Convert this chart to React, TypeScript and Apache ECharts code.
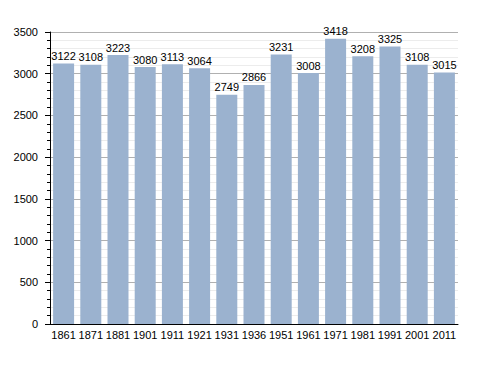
import React, { useEffect, useRef } from "react";
import * as echarts from "echarts";

const years = ["1861", "1871", "1881", "1901", "1911", "1921", "1931", "1936", "1951", "1961", "1971", "1981", "1991", "2001", "2011"];
const population = [3122, 3108, 3223, 3080, 3113, 3064, 2749, 2866, 3231, 3008, 3418, 3208, 3325, 3108, 3015];
const yMin = 0;
const yMax = 3500;
const yInterval = 500;

export default function App() {
  const ref = useRef<HTMLDivElement>(null);
  useEffect(() => {
    if (!ref.current) return;
    const chart = echarts.init(ref.current, null, { renderer: "svg" });
    chart.setOption({
      animation: false,
      backgroundColor: "#ffffff",
      textStyle: { fontFamily: "Liberation Sans, Arial, sans-serif" },
      grid: { left: 50, right: 30, top: 32, bottom: 49, containLabel: false },
      xAxis: {
        type: "category",
        data: years,
        axisLine: { show: true, lineStyle: { color: "#000", width: 1 } },
        axisTick: { show: false },
        axisLabel: { color: "#000", fontSize: 11, margin: 5, interval: 0 },
      },
      yAxis: {
        type: "value",
        min: yMin,
        max: yMax,
        interval: yInterval,
        axisLine: { show: true, lineStyle: { color: "#000", width: 1 } },
        axisTick: { show: true, length: 5, lineStyle: { color: "#000" } },
        minorTick: { show: true, splitNumber: 5, length: 3, lineStyle: { color: "#000" } },
        axisLabel: { color: "#000", fontSize: 11, margin: 12, formatter: (v: number) => String(v) },
        splitLine: { show: true, lineStyle: { color: "#b0b0b0", width: 1 } },
        minorSplitLine: { show: true, lineStyle: { color: "#ececec", width: 1 } },
      },
      series: [
        {
          type: "bar",
          data: population,
          barWidth: 21,
          itemStyle: { color: "#9bb2cf" },
          label: {
            show: true,
            position: "top",
            distance: 2,
            color: "#000",
            fontSize: 11,
          },
        },
      ],
    });
    return () => chart.dispose();
  }, []);
  return <div ref={ref} style={{ position: "absolute", left: 0, top: 0, width: 488, height: 373 }} />;
}
